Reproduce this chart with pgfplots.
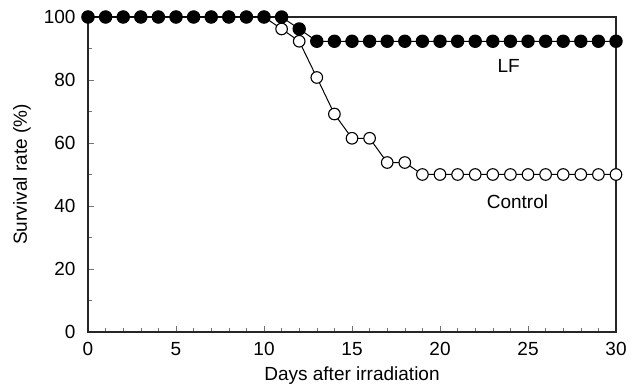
\documentclass[border=0pt]{standalone}
\usepackage{pgfplots}
\pgfplotsset{compat=1.18}
\usepackage{fontspec}
\setmainfont{Liberation Sans}
\begin{document}
\fontsize{19}{22}\selectfont
\begin{tikzpicture}
\begin{axis}[
  scale only axis,
  width=528pt, height=315pt,
  xmin=0, xmax=30, ymin=0, ymax=100,
  xtick={0,5,...,30}, ytick={0,20,...,100},
  minor xtick={1,...,29}, minor ytick={10,30,50,70,90},
  tick pos=left,
  tick align=inside,
  major tick length=6pt, minor tick length=4pt,
  every tick/.style={black!55, line width=0.6pt},
  axis line style={line width=1.3pt, black!85},
  /pgf/number format/assume math mode=true,
  ticklabel style={font=\fontsize{19}{22}\selectfont},
  xticklabel style={yshift=-4pt},
  yticklabel style={xshift=-6pt},
  label style={font=\fontsize{19}{22}\selectfont},
  xlabel={Days after irradiation},
  ylabel={Survival rate (\%)},
  xlabel style={yshift=2pt},
  ylabel style={yshift=0pt},
  clip=false,
]
\addplot[black, line width=1pt, mark=*, mark size=5.8pt,
  mark options={fill=white, line width=1.1pt}]
 coordinates {(0,100)(1,100)(2,100)(3,100)(4,100)(5,100)(6,100)(7,100)(8,100)(9,100)(10,100)
 (11,96.2)(12,92.3)(13,80.8)(14,69.2)(15,61.5)(16,61.5)(17,53.8)(18,53.8)
 (19,50)(20,50)(21,50)(22,50)(23,50)(24,50)(25,50)(26,50)(27,50)(28,50)(29,50)(30,50)};
\addplot[black, line width=1pt, mark=*, mark size=6.2pt,
  mark options={fill=black}]
 coordinates {(0,100)(1,100)(2,100)(3,100)(4,100)(5,100)(6,100)(7,100)(8,100)(9,100)(10,100)(11,100)
 (12,96.2)(13,92.3)(14,92.3)(15,92.3)(16,92.3)(17,92.3)(18,92.3)(19,92.3)(20,92.3)(21,92.3)
 (22,92.3)(23,92.3)(24,92.3)(25,92.3)(26,92.3)(27,92.3)(28,92.3)(29,92.3)(30,92.3)};
\node at (axis cs:23.9,84.5) {LF};
\node at (axis cs:24.4,41.3) {Control};
\end{axis}
\pgfresetboundingbox
\path (current axis.south west) ++(-88pt,-58pt) coordinate (bl);
\path (current axis.north east) ++(22pt,17pt) coordinate (tr);
\path[use as bounding box] (bl) rectangle (tr);
\end{tikzpicture}
\end{document}
